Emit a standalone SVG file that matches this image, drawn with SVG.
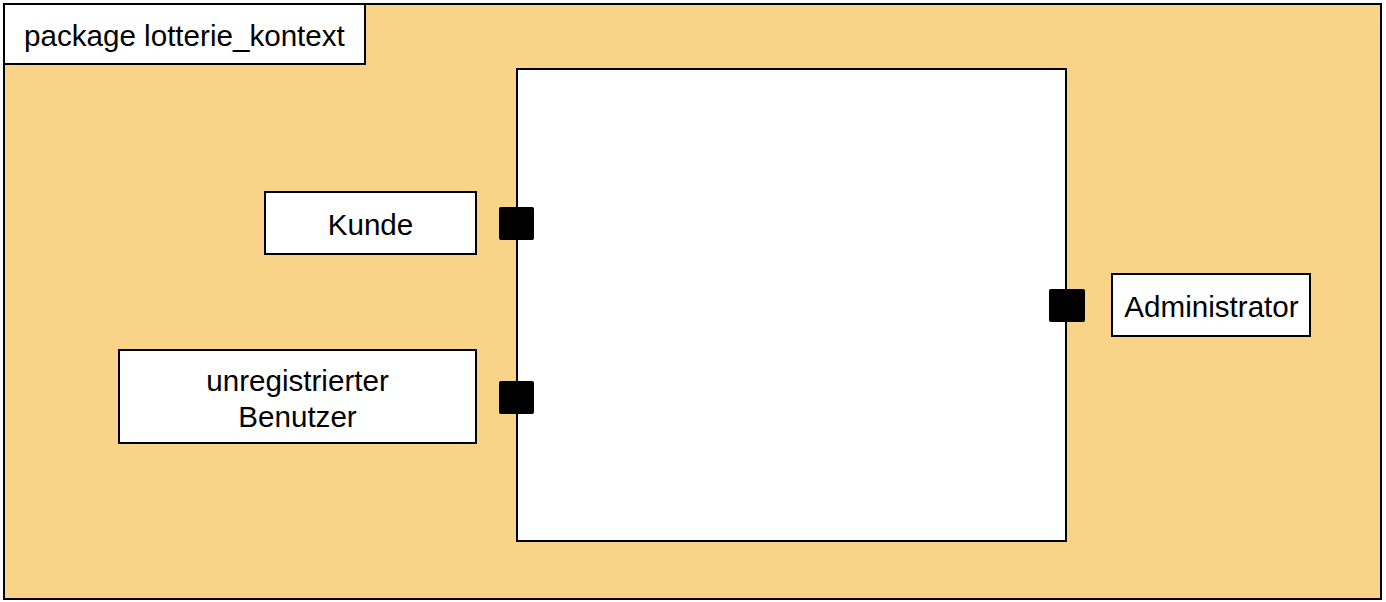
<svg xmlns="http://www.w3.org/2000/svg" width="1386" height="602" viewBox="0 0 1386 602">
<style>
.box{fill:#ffffff;stroke:#000;stroke-width:2}
.port{fill:#000;stroke:#000;stroke-width:1}
text{font-family:"Liberation Sans",Arial,sans-serif;font-size:29.6px;fill:#000}
.c{text-anchor:middle}
</style>
<g id="package">
<rect x="4" y="4" width="1377" height="595" fill="#F9D488" stroke="#000" stroke-width="2"/>
<rect class="box" x="4" y="4" width="361" height="60"/>
<text x="24" y="46">package lotterie_kontext</text>
</g>
<g id="system">
<rect class="box" x="517" y="69" width="549" height="472"/>
</g>
<g id="kunde">
<rect class="box" x="265" y="192" width="211" height="62"/>
<text class="c" x="370.5" y="235">Kunde</text>
</g>
<g id="unregistrierter_benutzer">
<rect class="box" x="119" y="350" width="357" height="93"/>
<text class="c" x="297.5" y="391">unregistrierter</text>
<text class="c" x="297.5" y="427">Benutzer</text>
</g>
<g id="administrator">
<rect class="box" x="1112" y="274" width="198" height="62"/>
<text class="c" x="1211.5" y="317">Administrator</text>
</g>
<g id="ports">
<rect class="port" x="499.5" y="207.5" width="34" height="32" rx="1"/>
<rect class="port" x="499.5" y="381.5" width="34" height="32" rx="1"/>
<rect class="port" x="1049.5" y="289.5" width="35" height="32" rx="1"/>
</g>
<g id="connectors"></g>
</svg>
